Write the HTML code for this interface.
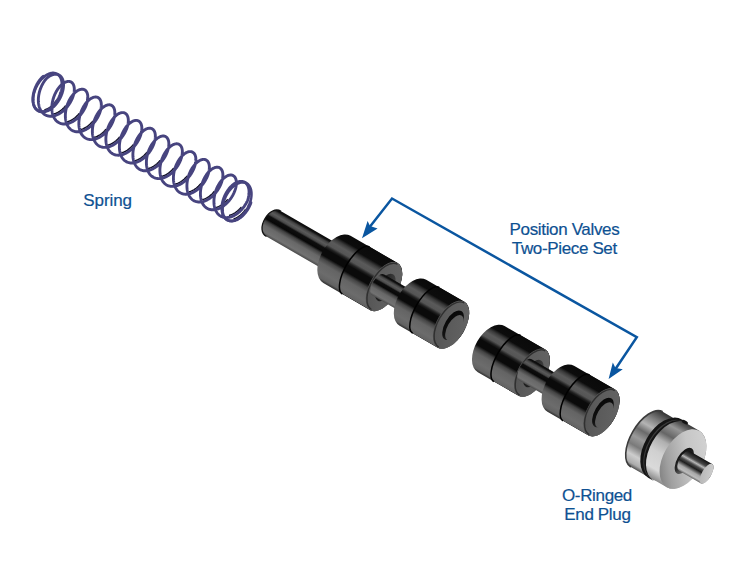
<!DOCTYPE html>
<html><head><meta charset="utf-8"><style>
html,body{margin:0;padding:0;background:#fff;}
#c{position:relative;width:750px;height:580px;overflow:hidden;background:#fff;}
svg{position:absolute;left:0;top:0;}
.t{position:absolute;font-family:"Liberation Sans",sans-serif;font-size:17px;line-height:19px;letter-spacing:-0.35px;color:#0e5192;white-space:nowrap;-webkit-text-stroke:0.2px #0e5192;}
</style></head><body><div id="c">
<svg width="750" height="580" viewBox="0 0 750 580">

<defs>
 <linearGradient id="blk" x1="0" y1="0" x2="0" y2="1">
  <stop offset="0" stop-color="#0a0a0a"/>
  <stop offset="0.14" stop-color="#0c0c0c"/>
  <stop offset="0.2" stop-color="#3a3a3a"/>
  <stop offset="0.27" stop-color="#5a5a5a"/>
  <stop offset="0.35" stop-color="#555555"/>
  <stop offset="0.40" stop-color="#202020"/>
  <stop offset="0.44" stop-color="#0a0a0a"/>
  <stop offset="0.56" stop-color="#0a0a0a"/>
  <stop offset="0.62" stop-color="#444444"/>
  <stop offset="0.7" stop-color="#646464"/>
  <stop offset="0.85" stop-color="#6c6c6c"/>
  <stop offset="0.95" stop-color="#626262"/>
  <stop offset="1" stop-color="#2e2e2e"/>
 </linearGradient>
 <linearGradient id="blk2" x1="0" y1="0" x2="0" y2="1">
  <stop offset="0" stop-color="#0a0a0a"/>
  <stop offset="0.190" stop-color="#0c0c0c"/>
  <stop offset="0.250" stop-color="#3a3a3a"/>
  <stop offset="0.320" stop-color="#5a5a5a"/>
  <stop offset="0.400" stop-color="#555555"/>
  <stop offset="0.450" stop-color="#202020"/>
  <stop offset="0.490" stop-color="#0a0a0a"/>
  <stop offset="0.610" stop-color="#0a0a0a"/>
  <stop offset="0.670" stop-color="#444444"/>
  <stop offset="0.750" stop-color="#646464"/>
  <stop offset="0.900" stop-color="#6c6c6c"/>
  <stop offset="0.990" stop-color="#626262"/>
  <stop offset="1" stop-color="#2e2e2e"/>
 </linearGradient>
 <linearGradient id="pin" x1="0" y1="0" x2="0" y2="1">
  <stop offset="0" stop-color="#0a0a0a"/>
  <stop offset="0.06" stop-color="#111"/>
  <stop offset="0.13" stop-color="#444"/>
  <stop offset="0.21" stop-color="#5a5a5a"/>
  <stop offset="0.29" stop-color="#484848"/>
  <stop offset="0.35" stop-color="#0e0e0e"/>
  <stop offset="0.48" stop-color="#080808"/>
  <stop offset="0.56" stop-color="#404040"/>
  <stop offset="0.7" stop-color="#686868"/>
  <stop offset="0.9" stop-color="#727272"/>
  <stop offset="1" stop-color="#4a4a4a"/>
 </linearGradient>
 <linearGradient id="face" x1="1" y1="0" x2="0" y2="1">
  <stop offset="0" stop-color="#646464"/>
  <stop offset="0.6" stop-color="#5c5c5c"/>
  <stop offset="1" stop-color="#505050"/>
 </linearGradient>
 <linearGradient id="ring" x1="1" y1="0" x2="0" y2="1">
  <stop offset="0" stop-color="#4a4a4a"/>
  <stop offset="0.45" stop-color="#262626"/>
  <stop offset="1" stop-color="#1a1a1a"/>
 </linearGradient>
 <linearGradient id="recess" x1="0" y1="0" x2="1" y2="1">
  <stop offset="0" stop-color="#050505"/>
  <stop offset="0.6" stop-color="#111"/>
  <stop offset="1" stop-color="#3a3a3a"/>
 </linearGradient>
 <linearGradient id="boss" x1="1" y1="0" x2="0" y2="1">
  <stop offset="0" stop-color="#626262"/>
  <stop offset="1" stop-color="#585858"/>
 </linearGradient>
 <linearGradient id="slvL" x1="0" y1="0" x2="0" y2="1">
  <stop offset="0" stop-color="#333"/>
  <stop offset="0.06" stop-color="#505050"/>
  <stop offset="0.16" stop-color="#7c7c7c"/>
  <stop offset="0.3" stop-color="#b4b4b4"/>
  <stop offset="0.42" stop-color="#6a6a6a"/>
  <stop offset="0.55" stop-color="#9a9a9a"/>
  <stop offset="0.68" stop-color="#7a7a7a"/>
  <stop offset="0.82" stop-color="#cdcdcd"/>
  <stop offset="0.94" stop-color="#acacac"/>
  <stop offset="1" stop-color="#505050"/>
 </linearGradient>
 <linearGradient id="slvR" x1="0" y1="0" x2="0" y2="1">
  <stop offset="0" stop-color="#3a3a3a"/>
  <stop offset="0.06" stop-color="#5a5a5a"/>
  <stop offset="0.15" stop-color="#959595"/>
  <stop offset="0.3" stop-color="#666"/>
  <stop offset="0.42" stop-color="#b0b0b0"/>
  <stop offset="0.6" stop-color="#d0d0d0"/>
  <stop offset="0.85" stop-color="#dadada"/>
  <stop offset="1" stop-color="#8a8a8a"/>
 </linearGradient>
 <linearGradient id="chamf" x1="1" y1="0" x2="0" y2="1">
  <stop offset="0" stop-color="#c8c8c8"/>
  <stop offset="0.5" stop-color="#a8a8a8"/>
  <stop offset="1" stop-color="#8c8c8c"/>
 </linearGradient>
 <linearGradient id="slvface" x1="0.85" y1="0" x2="0.15" y2="1">
  <stop offset="0" stop-color="#d4d4d4"/>
  <stop offset="0.4" stop-color="#c6c6c6"/>
  <stop offset="0.75" stop-color="#a0a0a0"/>
  <stop offset="1" stop-color="#767676"/>
 </linearGradient>
 <linearGradient id="pinbase" x1="0" y1="0" x2="1" y2="1">
  <stop offset="0" stop-color="#0a0a0a"/>
  <stop offset="0.6" stop-color="#2a2a2a"/>
  <stop offset="1" stop-color="#8a8a8a"/>
 </linearGradient>
 <linearGradient id="spin" x1="0" y1="0" x2="0" y2="1">
  <stop offset="0" stop-color="#111"/>
  <stop offset="0.1" stop-color="#2a2a2a"/>
  <stop offset="0.22" stop-color="#4a4a4a"/>
  <stop offset="0.33" stop-color="#b8b8b8"/>
  <stop offset="0.44" stop-color="#4a4a4a"/>
  <stop offset="0.56" stop-color="#1e1e1e"/>
  <stop offset="0.75" stop-color="#a8a8a8"/>
  <stop offset="0.9" stop-color="#bcbcbc"/>
  <stop offset="1" stop-color="#666"/>
 </linearGradient>
 <linearGradient id="spinface" x1="1" y1="0" x2="0" y2="1">
  <stop offset="0" stop-color="#d0d0d0"/>
  <stop offset="1" stop-color="#b4b4b4"/>
 </linearGradient>
</defs>

<g transform="rotate(30)">
<path d="M349.0,42.4 L420,42.4 L420,71.6 L349.0,71.6 C342.88,71.6 338.8,65.76 338.8,57 C338.8,48.24 342.88,42.4 349.0,42.4 Z" fill="url(#pin)"/>
<path d="M349.0,71.6 C342.88,71.6 338.8,65.76 338.8,57 C338.8,48.24 342.88,42.4 349.0,42.4" fill="none" stroke="#111" stroke-width="1.3"/>
<path d="M421.50,29.00 L475.80,29.00 A14.14,27.20 0 0 1 475.80,83.40 L421.50,83.40 A16.32,27.20 0 0 1 421.50,29.00 Z" fill="url(#blk)"/>
<path d="M443.50,29.00 L475.80,29.00 A14.14,27.20 0 0 1 475.80,83.40 L443.50,83.40 A10.88,27.20 0 0 1 443.50,29.00 Z" fill="url(#blk2)"/>
<path d="M443.50,29.00 A10.88,27.20 0 0 0 443.50,83.40" fill="none" stroke="#000" stroke-width="1.5"/>
<ellipse cx="475.80" cy="56.20" rx="14.14" ry="27.20" fill="url(#face)"/>
<path d="M476.40,30.09 A13.58,26.11 0 0 0 476.40,82.31" fill="none" stroke="#303030" stroke-width="1.4"/>
<ellipse cx="477.50" cy="56.30" rx="7.90" ry="15.20" fill="url(#ring)"/>
<path d="M470.00,45.70 L512.00,45.70 A6.00,12.00 0 0 1 512.00,69.70 L470.00,69.70 A6.00,12.00 0 0 1 470.00,45.70 Z" fill="url(#pin)"/>
<path d="M509.00,29.20 L553.00,29.20 A14.34,26.55 0 0 1 553.00,82.30 L509.00,82.30 A15.93,26.55 0 0 1 509.00,29.20 Z" fill="url(#blk)"/>
<path d="M524.00,29.20 L553.00,29.20 A14.34,26.55 0 0 1 553.00,82.30 L524.00,82.30 A10.62,26.55 0 0 1 524.00,29.20 Z" fill="url(#blk2)"/>
<path d="M524.00,29.20 A10.62,26.55 0 0 0 524.00,82.30" fill="none" stroke="#000" stroke-width="1.5"/>
<ellipse cx="553.00" cy="55.75" rx="14.34" ry="26.55" fill="url(#face)"/>
<path d="M553.60,30.26 A13.76,25.49 0 0 0 553.60,81.24" fill="none" stroke="#303030" stroke-width="1.4"/>
<ellipse cx="555.00" cy="55.15" rx="8.20" ry="16.40" fill="url(#recess)"/>
<ellipse cx="557.40" cy="56.65" rx="6.82" ry="14.20" fill="url(#boss)"/>
<path d="M600.00,30.10 L647.00,30.10 A13.88,26.70 0 0 1 647.00,83.50 L600.00,83.50 A16.02,26.70 0 0 1 600.00,30.10 Z" fill="url(#blk)"/>
<path d="M618.50,30.10 L647.00,30.10 A13.88,26.70 0 0 1 647.00,83.50 L618.50,83.50 A10.68,26.70 0 0 1 618.50,30.10 Z" fill="url(#blk2)"/>
<path d="M618.50,30.10 A10.68,26.70 0 0 0 618.50,83.50" fill="none" stroke="#000" stroke-width="1.5"/>
<ellipse cx="647.00" cy="56.80" rx="13.88" ry="26.70" fill="url(#face)"/>
<path d="M647.60,31.17 A13.33,25.63 0 0 0 647.60,82.43" fill="none" stroke="#303030" stroke-width="1.4"/>
<ellipse cx="648.70" cy="56.80" rx="7.90" ry="15.20" fill="url(#ring)"/>
<path d="M640.00,45.30 L684.00,45.30 A6.15,12.30 0 0 1 684.00,69.90 L640.00,69.90 A6.15,12.30 0 0 1 640.00,45.30 Z" fill="url(#pin)"/>
<path d="M680.00,29.80 L727.00,29.80 A14.34,26.55 0 0 1 727.00,82.90 L680.00,82.90 A15.93,26.55 0 0 1 680.00,29.80 Z" fill="url(#blk)"/>
<path d="M698.00,29.80 L727.00,29.80 A14.34,26.55 0 0 1 727.00,82.90 L698.00,82.90 A10.62,26.55 0 0 1 698.00,29.80 Z" fill="url(#blk2)"/>
<path d="M698.00,29.80 A10.62,26.55 0 0 0 698.00,82.90" fill="none" stroke="#000" stroke-width="1.5"/>
<ellipse cx="727.00" cy="56.35" rx="14.34" ry="26.55" fill="url(#face)"/>
<path d="M727.60,30.86 A13.76,25.49 0 0 0 727.60,81.84" fill="none" stroke="#303030" stroke-width="1.4"/>
<ellipse cx="728.40" cy="55.75" rx="8.20" ry="16.40" fill="url(#recess)"/>
<ellipse cx="730.80" cy="57.25" rx="6.82" ry="14.20" fill="url(#boss)"/>
<path d="M779.80,25.30 L804.00,25.30 A19.11,31.85 0 0 1 804.00,89.00 L779.80,89.00 A15.93,31.85 0 0 1 779.80,25.30 Z" fill="url(#slvL)"/>
<path d="M779.8,25.299999999999997 A15.925,31.85 0 0 0 779.8,89.0" fill="none" stroke="#3c3c3c" stroke-width="1.6"/>
<path d="M803.00,23.50 L821.00,23.50 A19.50,32.50 0 0 1 821.00,88.50 L803.00,88.50 A19.50,32.50 0 0 1 803.00,23.50 Z" fill="url(#slvR)"/>
<path d="M800.20,22.30 A20.89,33.70 0 0 0 800.20,89.70 L806.80,89.70 A20.89,33.70 0 0 1 806.80,22.30 Z" fill="#141414"/>
<path d="M803.00,23.00 A20.46,33.00 0 0 0 803.00,89.00 L804.20,89.00 A20.46,33.00 0 0 1 804.20,23.00 Z" fill="#3a3a3a"/>
<ellipse cx="804.2" cy="23.2" rx="3.4" ry="1.6" fill="#141414"/>
<ellipse cx="821.00" cy="56.00" rx="19.50" ry="32.50" fill="url(#slvface)"/>
<ellipse cx="823.00" cy="57.00" rx="7.25" ry="14.50" fill="url(#pinbase)"/>
<path d="M823.50,45.80 L848.80,45.80 A4.70,11.20 0 0 1 848.80,68.20 L823.50,68.20 A5.60,11.20 0 0 1 823.50,45.80 Z" fill="url(#spin)"/>
<ellipse cx="848.80" cy="57.00" rx="4.70" ry="11.20" fill="url(#spinface)"/>
</g>
<path d="M44.97,109.65 L45.39,109.53 L45.81,109.39 L46.24,109.23 L46.67,109.06 L47.10,108.87 L47.54,108.66 L47.98,108.43 L48.42,108.18 L48.87,107.92 L49.31,107.64 L49.75,107.34 L50.19,107.02 L50.63,106.69 L51.07,106.34 L51.51,105.97 L51.94,105.59 L52.37,105.20 L52.79,104.79 L53.21,104.36 L53.63,103.92 L54.04,103.47 L54.44,103.01 L54.84,102.53 L55.22,102.04 L55.60,101.54 L55.99,101.02 M53.99,113.89 L54.47,113.75 L54.95,113.60 L55.44,113.43 L55.93,113.24 L56.42,113.03 L56.92,112.80 L57.41,112.56 L57.90,112.30 L58.39,112.02 L58.89,111.73 L59.38,111.42 L59.86,111.09 L60.35,110.75 L60.83,110.39 L61.31,110.02 L61.78,109.64 L62.25,109.24 L62.71,108.82 L63.17,108.39 L63.62,107.96 L64.07,107.50 L64.50,107.04 L64.93,106.57 L65.36,106.07 M67.61,121.65 L68.09,121.52 L68.57,121.36 L69.06,121.18 L69.55,120.99 L70.04,120.78 L70.54,120.55 L71.03,120.30 L71.52,120.04 L72.02,119.75 L72.51,119.46 L73.00,119.14 L73.48,118.81 L73.97,118.47 L74.45,118.11 L74.93,117.73 L75.40,117.34 L75.87,116.94 L76.33,116.52 L76.78,116.09 L77.23,115.65 L77.67,115.19 L78.11,114.73 L78.53,114.25 L78.96,113.75 M81.23,129.42 L81.71,129.28 L82.19,129.12 L82.68,128.94 L83.17,128.74 L83.66,128.52 L84.16,128.29 L84.65,128.04 L85.14,127.77 L85.64,127.48 L86.13,127.18 L86.62,126.87 L87.10,126.53 L87.59,126.18 L88.07,125.82 L88.54,125.44 L89.02,125.05 L89.48,124.64 L89.94,124.22 L90.40,123.79 L90.84,123.34 L91.28,122.89 L91.72,122.42 L92.14,121.94 L92.57,121.44 M94.36,137.32 L94.84,137.19 L95.33,137.04 L95.81,136.87 L96.30,136.69 L96.79,136.49 L97.29,136.27 L97.78,136.03 L98.27,135.77 L98.77,135.50 L99.26,135.21 L99.75,134.91 L100.24,134.59 L100.72,134.25 L101.21,133.90 L101.69,133.53 L102.16,133.15 L102.63,132.75 L103.10,132.34 L103.55,131.92 L104.01,131.48 L104.45,131.03 L104.89,130.58 L105.32,130.10 L105.76,129.61 M107.98,145.09 L108.46,144.95 L108.95,144.80 L109.43,144.63 L109.92,144.44 L110.41,144.24 L110.91,144.01 L111.40,143.77 L111.89,143.51 L112.39,143.23 L112.88,142.94 L113.37,142.63 L113.86,142.31 L114.34,141.97 L114.83,141.61 L115.30,141.24 L115.78,140.85 L116.25,140.45 L116.71,140.04 L117.17,139.62 L117.62,139.18 L118.06,138.73 L118.50,138.26 L118.93,137.79 L119.36,137.29 M121.60,152.86 L122.08,152.72 L122.57,152.56 L123.05,152.39 L123.54,152.19 L124.04,151.98 L124.53,151.75 L125.02,151.51 L125.52,151.25 L126.01,150.97 L126.50,150.67 L126.99,150.36 L127.48,150.03 L127.96,149.68 L128.44,149.32 L128.92,148.95 L129.39,148.56 L129.86,148.16 L130.32,147.74 L130.78,147.31 L131.23,146.87 L131.67,146.42 L132.11,145.95 L132.53,145.48 L132.96,144.98 M135.22,160.62 L135.70,160.48 L136.19,160.32 L136.67,160.14 L137.17,159.94 L137.66,159.73 L138.15,159.50 L138.64,159.25 L139.14,158.98 L139.63,158.70 L140.12,158.40 L140.61,158.08 L141.10,157.75 L141.58,157.40 L142.06,157.04 L142.54,156.66 L143.01,156.27 L143.48,155.86 L143.94,155.44 L144.39,155.01 L144.84,154.56 L145.28,154.11 L145.71,153.64 L146.14,153.16 L146.57,152.66 M148.36,168.52 L148.84,168.39 L149.32,168.24 L149.81,168.08 L150.30,167.89 L150.79,167.69 L151.28,167.47 L151.77,167.24 L152.27,166.98 L152.76,166.71 L153.25,166.43 L153.74,166.12 L154.23,165.80 L154.72,165.46 L155.20,165.11 L155.68,164.75 L156.15,164.36 L156.62,163.97 L157.09,163.56 L157.55,163.14 L158.00,162.70 L158.45,162.26 L158.89,161.80 L159.32,161.33 L159.75,160.83 M161.98,176.29 L162.46,176.15 L162.94,176.00 L163.43,175.83 L163.92,175.65 L164.41,175.44 L164.90,175.22 L165.39,174.98 L165.89,174.72 L166.38,174.45 L166.87,174.15 L167.36,173.85 L167.85,173.52 L168.34,173.18 L168.82,172.83 L169.30,172.46 L169.77,172.07 L170.24,171.67 L170.70,171.26 L171.16,170.84 L171.61,170.40 L172.06,169.95 L172.49,169.49 L172.92,169.02 L173.36,168.52 M175.59,184.06 L176.07,183.92 L176.56,183.76 L177.05,183.59 L177.54,183.40 L178.03,183.19 L178.52,182.96 L179.01,182.72 L179.51,182.46 L180.00,182.18 L180.49,181.88 L180.98,181.57 L181.47,181.24 L181.96,180.90 L182.44,180.54 L182.91,180.17 L183.39,179.78 L183.86,179.38 L184.32,178.96 L184.77,178.53 L185.22,178.09 L185.67,177.64 L186.10,177.18 L186.53,176.70 L186.96,176.20 M189.21,191.82 L189.69,191.68 L190.18,191.52 L190.67,191.34 L191.16,191.15 L191.65,190.94 L192.14,190.70 L192.64,190.46 L193.13,190.19 L193.62,189.91 L194.11,189.61 L194.60,189.29 L195.09,188.96 L195.57,188.61 L196.05,188.25 L196.53,187.87 L197.00,187.48 L197.47,187.08 L197.93,186.66 L198.39,186.23 L198.83,185.79 L199.28,185.33 L199.71,184.86 L200.13,184.39 L200.56,183.89 M202.83,199.59 L203.31,199.44 L203.80,199.28 L204.29,199.10 L204.78,198.90 L205.27,198.68 L205.76,198.45 L206.26,198.19 L206.75,197.92 L207.24,197.64 L207.73,197.33 L208.22,197.01 L208.71,196.68 L209.19,196.33 L209.67,195.96 L210.15,195.58 L210.62,195.19 L211.08,194.78 L211.54,194.36 L212.00,193.92 L212.44,193.48 L212.88,193.02 L213.32,192.55 L213.74,192.07 L214.17,191.57 M215.97,207.49 L216.45,207.36 L216.93,207.21 L217.42,207.04 L217.91,206.85 L218.40,206.65 L218.89,206.43 L219.39,206.19 L219.88,205.93 L220.37,205.66 L220.86,205.37 L221.36,205.06 L221.84,204.74 L222.33,204.40 L222.81,204.04 L223.29,203.67 L223.76,203.29 L224.23,202.89 L224.70,202.48 L225.16,202.06 L225.61,201.62 L226.05,201.17 L226.49,200.71 L226.92,200.24 L227.35,199.74 M229.59,215.26 L230.07,215.12 L230.55,214.97 L231.04,214.79 L231.53,214.60 L232.02,214.40 L232.51,214.17 L233.01,213.93 L233.50,213.67 L233.99,213.39 L234.49,213.09 L234.98,212.78 L235.46,212.46 L235.95,212.11 L236.43,211.76 L236.91,211.38 L237.38,211.00 L237.85,210.60 L238.31,210.18 L238.77,209.75 L239.22,209.31 L239.66,208.86 L240.10,208.40 L240.53,207.93 L240.96,207.43 M234.16,218.70 L234.58,218.57 L235.00,218.42 L235.43,218.26 L235.86,218.07 L236.30,217.87 L236.74,217.65 L237.18,217.42 L237.62,217.16 L238.06,216.89 L238.51,216.60 L238.95,216.29 L239.39,215.97 L239.83,215.62 L240.27,215.27 L240.70,214.89 L241.13,214.51 L241.56,214.10 L241.98,213.68 L242.40,213.25 L242.81,212.81 L243.22,212.35 L243.62,211.88 L244.01,211.40 L244.39,210.90 L244.77,210.40 L245.15,209.87" fill="none" stroke="#15142a" stroke-width="1.5" stroke-linecap="round"/><g transform="rotate(30)"><path d="M99.66,56.16 L99.60,55.08 L99.51,54.00 L99.38,52.93 L99.23,51.86 L99.03,50.81 L98.81,49.77 L98.55,48.75 L98.27,47.75 L97.95,46.77 L97.61,45.82 L97.23,44.90 L96.83,44.01 L96.40,43.15 L95.95,42.33 L95.47,41.54 L94.97,40.80 L94.45,40.09 L93.91,39.43 L93.35,38.82 L92.78,38.25 L92.19,37.74 L91.58,37.27 L90.97,36.86 L90.34,36.50 L89.71,36.19 L89.07,35.94 L88.42,35.74 L87.77,35.60 L87.12,35.51 L86.47,35.48 L85.82,35.51 L85.18,35.60 L84.54,35.74 L83.91,35.94 L83.29,36.19 L82.67,36.50 L82.08,36.86 L81.49,37.27 L80.92,37.74 L80.37,38.25 L79.84,38.82 L79.33,39.43 L78.84,40.09 L78.37,40.80 L77.93,41.54 L77.51,42.33 L77.12,43.15 L76.76,44.01 L76.42,44.90 L76.12,45.82 L75.85,46.77 L75.60,47.75 L75.39,48.75 L75.21,49.77 L75.07,50.81 L74.96,51.86 L74.88,52.93 L74.84,54.00 L74.83,55.08 L74.85,56.16 L74.91,57.24 L75.00,58.32 L75.13,59.39 L75.28,60.46 L75.48,61.51 L75.70,62.55 L75.96,63.57 L76.24,64.57 L76.56,65.55 L76.90,66.50 L77.28,67.42 L77.68,68.31 L78.11,69.17 L78.56,69.99 L79.04,70.78 L79.54,71.52 L80.06,72.23 L80.60,72.89 L81.16,73.50 L81.73,74.07 L82.32,74.58 L82.93,75.05 L83.54,75.46 L84.17,75.82 L84.80,76.13 L85.44,76.38 L86.09,76.58 L86.74,76.72 L87.39,76.81 L88.04,76.83 L88.69,76.81 L89.33,76.72 L89.97,76.58 L90.60,76.38 L91.22,76.13 L91.84,75.82 L92.43,75.46 L93.02,75.05 L93.59,74.58 L94.14,74.07 L94.67,73.50 L95.18,72.89 L95.67,72.23 L96.14,71.52 L96.58,70.78 L97.00,69.99 L97.39,69.17 L97.75,68.31 L98.09,67.42 L98.39,66.50 L98.66,65.55 L98.91,64.57 L99.12,63.57 L99.30,62.55 L99.44,61.51 L99.55,60.46 L99.63,59.39 L99.67,58.32 L99.68,57.24 L99.66,56.16Z" fill="none" stroke="#47447f" stroke-width="2.7"/><path d="M318.45,56.16 L318.39,55.08 L318.30,54.00 L318.17,52.93 L318.02,51.86 L317.82,50.81 L317.60,49.77 L317.34,48.75 L317.06,47.75 L316.74,46.77 L316.40,45.82 L316.02,44.90 L315.62,44.01 L315.19,43.15 L314.74,42.33 L314.26,41.54 L313.76,40.80 L313.24,40.09 L312.70,39.43 L312.14,38.82 L311.57,38.25 L310.98,37.74 L310.37,37.27 L309.76,36.86 L309.13,36.50 L308.50,36.19 L307.86,35.94 L307.21,35.74 L306.56,35.60 L305.91,35.51 L305.26,35.48 L304.61,35.51 L303.97,35.60 L303.33,35.74 L302.70,35.94 L302.08,36.19 L301.46,36.50 L300.87,36.86 L300.28,37.27 L299.71,37.74 L299.16,38.25 L298.63,38.82 L298.12,39.43 L297.63,40.09 L297.16,40.80 L296.72,41.54 L296.30,42.33 L295.91,43.15 L295.55,44.01 L295.21,44.90 L294.91,45.82 L294.64,46.77 L294.39,47.75 L294.18,48.75 L294.00,49.77 L293.86,50.81 L293.75,51.86 L293.67,52.93 L293.63,54.00 L293.62,55.08 L293.64,56.16 L293.70,57.24 L293.79,58.32 L293.92,59.39 L294.07,60.46 L294.27,61.51 L294.49,62.55 L294.75,63.57 L295.03,64.57 L295.35,65.55 L295.69,66.50 L296.07,67.42 L296.47,68.31 L296.90,69.17 L297.35,69.99 L297.83,70.78 L298.33,71.52 L298.85,72.23 L299.39,72.89 L299.95,73.50 L300.52,74.07 L301.11,74.58 L301.72,75.05 L302.33,75.46 L302.96,75.82 L303.59,76.13 L304.23,76.38 L304.88,76.58 L305.53,76.72 L306.18,76.81 L306.83,76.83 L307.48,76.81 L308.12,76.72 L308.76,76.58 L309.39,76.38 L310.01,76.13 L310.63,75.82 L311.22,75.46 L311.81,75.05 L312.38,74.58 L312.93,74.07 L313.46,73.50 L313.97,72.89 L314.46,72.23 L314.93,71.52 L315.37,70.78 L315.79,69.99 L316.18,69.17 L316.54,68.31 L316.88,67.42 L317.18,66.50 L317.45,65.55 L317.70,64.57 L317.91,63.57 L318.09,62.55 L318.23,61.51 L318.34,60.46 L318.42,59.39 L318.46,58.32 L318.47,57.24 L318.45,56.16Z" fill="none" stroke="#47447f" stroke-width="2.7"/><path d="M75.58,44.46 L75.40,45.02 L75.23,45.60 L75.07,46.19 L74.93,46.79 L74.79,47.40 L74.67,48.01 L74.56,48.64 L74.46,49.28 L74.38,49.92 L74.31,50.57 L74.25,51.22 L74.21,51.88 L74.17,52.55 L74.16,53.22 L74.15,53.89 L74.16,54.56 L74.18,55.24 L74.22,55.92 L74.27,56.59 L74.33,57.27 L74.40,57.95 L74.49,58.62 L74.59,59.29 L74.71,59.96 L74.83,60.62 L74.97,61.28 L75.13,61.93 L75.29,62.58 L75.47,63.22 L75.66,63.85 L75.86,64.48 L76.08,65.09 L76.30,65.70 L76.54,66.30 L76.79,66.88 L77.04,67.45 L77.31,68.02 L77.59,68.56 L77.89,69.10 L78.19,69.62 L78.50,70.13 L78.81,70.62 L79.14,71.10 L79.48,71.56 L79.82,72.00 L80.18,72.43 L80.54,72.84 L80.90,73.23 L81.28,73.60 L81.66,73.95 L82.05,74.29 L82.44,74.61 L82.84,74.90 L83.24,75.18 L83.64,75.43 L84.06,75.67 L84.47,75.88 L84.89,76.07 L85.31,76.25 L85.73,76.40 L86.16,76.52 L86.58,76.63 L87.01,76.71 L87.44,76.78 L87.87,76.82 L88.29,76.83 L88.72,76.83 L89.15,76.80 L89.57,76.75 L89.99,76.68 L90.41,76.59 L90.83,76.48 L91.24,76.34 L91.65,76.18 L92.06,76.00 L92.46,75.80 L92.86,75.58 L93.25,75.34 L93.63,75.07 L94.01,74.79 L94.39,74.48 L94.75,74.16 L95.11,73.82 L95.46,73.46 L95.80,73.08 L96.14,72.68 L96.46,72.26 L96.78,71.83 L97.09,71.38 L97.39,70.91 L97.67,70.43 L97.95,69.93 L98.22,69.42 L98.47,68.89 L98.72,68.35 L98.95,67.80 L99.18,67.23 L99.39,66.65 L99.59,66.06 L99.77,65.46 L99.95,64.85 L100.11,64.23 L100.26,63.61 L100.40,62.97 L100.52,62.33 L100.63,61.68 L100.73,61.02 L100.81,60.36 L100.89,59.70 L100.94,59.03 L100.99,58.35 L101.02,57.68 L101.04,57.00 L101.04,56.33 L101.04,55.65 L101.01,54.97 L100.98,54.30 L100.93,53.62 L100.87,52.95 L100.80,52.28 L100.71,51.62 L100.61,50.96 L100.50,50.31 L100.37,49.66 L100.23,49.02 L100.08,48.39 L99.92,47.77 L99.75,47.15 L99.56,46.55 L99.37,45.95 L99.16,45.37 L98.94,44.80 L98.71,44.24 L98.47,43.69 L98.22,43.16 L97.96,42.64 L97.69,42.13 L97.42,41.64 L97.13,41.17 L96.83,40.71 L96.53,40.27 L96.22,39.84 L95.90,39.44 L95.57,39.05 L95.24,38.68 L94.90,38.32 L94.55,37.99 L94.20,37.68 L93.84,37.38 L93.48,37.11 L93.12,36.86 L92.75,36.63 L92.37,36.41 L92.00,36.22 L91.62,36.06 L91.24,35.91 L90.85,35.78 L90.47,35.68 L90.08,35.60 L89.70,35.54 L89.31,35.50 L88.92,35.49 L88.54,35.49 L88.15,35.52 L87.77,35.57 L87.39,35.65 L87.01,35.74 L86.64,35.86 L86.27,36.00 L85.90,36.16 L85.54,36.34 L85.18,36.54 L84.82,36.77 L84.47,37.01 L84.13,37.28 L83.79,37.57 L83.46,37.87 L83.14,38.20 L82.83,38.54 L82.52,38.91 L82.22,39.29 L81.93,39.69 L81.64,40.11 L81.37,40.54 L81.10,41.00 L80.85,41.47 L80.61,41.95 L80.37,42.45 L80.15,42.96 L79.93,43.49 L79.73,44.03 L79.55,44.59 L79.43,45.16 L79.33,45.74 L79.23,46.33 L79.15,46.93 L79.08,47.54 L79.02,48.16 L78.97,48.79 L78.94,49.42 L78.92,50.07 L78.91,50.72 L78.92,51.38 L78.94,52.04 L78.97,52.70 L79.01,53.37 L79.07,54.04 L79.15,54.72 L79.23,55.40 L79.33,56.07 L79.44,56.75 L79.57,57.43 L79.71,58.10 L79.86,58.78 L80.02,59.45 L80.20,60.11 L80.39,60.78 L80.59,61.43 L80.81,62.09 L81.04,62.73 L81.28,63.37 L81.53,64.00 L81.80,64.62 L82.08,65.24 L82.36,65.84 L82.66,66.43 L82.98,67.02 L83.30,67.59 L83.63,68.14 L83.97,68.69 L84.33,69.22 L84.69,69.74 L85.06,70.24 L85.44,70.73 L85.83,71.20 L86.23,71.66 L86.64,72.10 L87.05,72.52 L87.48,72.93 L87.91,73.32 L88.34,73.68 L88.79,74.03 L89.23,74.37 L89.69,74.68 L90.15,74.97 L90.61,75.24 L91.08,75.49 L91.55,75.72 L92.03,75.93 L92.51,76.12 L92.99,76.28 L93.47,76.43 L93.96,76.55 L94.45,76.65 L94.93,76.73 L95.42,76.79 L95.91,76.82 L96.40,76.83 L96.89,76.83 L97.37,76.79 L97.86,76.74 L98.34,76.66 L98.82,76.57 L99.30,76.45 L99.77,76.30 L100.24,76.14 L100.70,75.96 L101.16,75.75 L101.62,75.52 L102.07,75.28 L102.51,75.01 L102.95,74.72 L103.38,74.41 L103.81,74.08 L104.23,73.73 L104.64,73.37 L105.04,72.98 L105.43,72.58 L105.81,72.16 L106.19,71.72 L106.55,71.27 L106.91,70.80 L107.26,70.31 L107.59,69.81 L107.92,69.30 L108.23,68.77 L108.53,68.22 L108.83,67.67 L109.11,67.10 L109.37,66.52 L109.63,65.92 L109.88,65.32 L110.11,64.71 L110.33,64.09 L110.53,63.46 L110.73,62.82 L110.91,62.18 L111.08,61.52 L111.23,60.87 L111.38,60.21 L111.51,59.54 L111.62,58.87 L111.72,58.20 L111.81,57.52 L111.89,56.84 L111.95,56.17 L112.00,55.49 L112.04,54.81 L112.06,54.14 L112.07,53.47 L112.06,52.80 L112.05,52.13 L112.02,51.47 L111.98,50.81 L111.92,50.16 L111.85,49.51 L111.77,48.88 L111.68,48.25 L111.58,47.62 L111.46,47.01 L111.33,46.41 L111.19,45.82 L111.05,45.24 L110.88,44.67 L110.71,44.11 L110.53,43.57 L110.34,43.04 L110.14,42.52 L109.93,42.02 L109.71,41.53 L109.48,41.06 L109.24,40.61 L109.00,40.17 L108.74,39.75 L108.48,39.34 L108.21,38.96 L107.94,38.59 L107.66,38.25 L107.37,37.92 L107.08,37.61 L106.78,37.32 L106.48,37.05 L106.18,36.80 L105.87,36.57 L105.55,36.37 L105.24,36.18 L104.92,36.02 L104.59,35.88 L104.27,35.76 L103.95,35.66 L103.62,35.58 L103.30,35.53 L102.97,35.50 L102.64,35.49 L102.32,35.50 L102.00,35.53 L101.67,35.59 L101.36,35.67 L101.04,35.77 L100.72,35.89 L100.41,36.03 L100.11,36.20 L99.81,36.39 L99.51,36.60 L99.22,36.82 L98.93,37.07 L98.65,37.35 L98.37,37.64 L98.11,37.95 L97.84,38.28 L97.59,38.63 L97.35,39.00 L97.11,39.38 L96.88,39.79 L96.66,40.21 L96.45,40.65 L96.25,41.10 L96.05,41.58 L95.87,42.07 L95.70,42.57 L95.54,43.09 L95.39,43.62 L95.25,44.16 L95.12,44.72 L95.00,45.29 L94.90,45.87 L94.81,46.47 L94.73,47.07 L94.66,47.68 L94.60,48.30 L94.56,48.94 L94.53,49.57 L94.51,50.22 L94.51,50.87 L94.52,51.53 L94.54,52.19 L94.57,52.86 L94.62,53.53 L94.69,54.20 L94.76,54.88 L94.85,55.55 L94.95,56.23 L95.07,56.91 L95.19,57.59 L95.34,58.26 L95.49,58.93 L95.66,59.60 L95.84,60.27 L96.03,60.93 L96.24,61.59 L96.46,62.24 L96.69,62.88 L96.93,63.52 L97.19,64.15 L97.46,64.77 L97.74,65.38 L98.03,65.98 L98.33,66.57 L98.65,67.15 L98.97,67.72 L99.31,68.27 L99.65,68.82 L100.01,69.34 L100.37,69.86 L100.75,70.36 L101.13,70.84 L101.52,71.31 L101.92,71.77 L102.33,72.20 L102.75,72.62 L103.17,73.02 L103.60,73.40 L104.04,73.77 L104.49,74.11 L104.94,74.44 L105.39,74.75 L105.85,75.03 L106.32,75.30 L106.79,75.55 L107.26,75.77 L107.74,75.97 L108.22,76.16 L108.70,76.32 L109.18,76.46 L109.67,76.58 L110.16,76.67 L110.64,76.75 L111.13,76.80 L111.62,76.83 L112.11,76.83 L112.60,76.82 L113.08,76.78 L113.57,76.72 L114.05,76.64 L114.53,76.54 L115.00,76.41 L115.47,76.27 L115.94,76.10 L116.41,75.91 L116.87,75.70 L117.32,75.47 L117.77,75.21 L118.21,74.94 L118.65,74.65 L119.08,74.34 L119.50,74.00 L119.92,73.65 L120.33,73.28 L120.72,72.89 L121.12,72.48 L121.50,72.06 L121.87,71.62 L122.23,71.16 L122.59,70.69 L122.93,70.20 L123.26,69.69 L123.59,69.17 L123.90,68.64 L124.20,68.09 L124.49,67.53 L124.77,66.96 L125.03,66.38 L125.28,65.78 L125.53,65.18 L125.76,64.57 L125.97,63.94 L126.18,63.31 L126.37,62.67 L126.55,62.02 L126.71,61.37 L126.86,60.71 L127.00,60.05 L127.13,59.38 L127.24,58.71 L127.34,58.04 L127.43,57.36 L127.50,56.69 L127.56,56.01 L127.61,55.33 L127.64,54.66 L127.66,53.98 L127.66,53.31 L127.66,52.64 L127.64,51.97 L127.60,51.31 L127.56,50.66 L127.50,50.01 L127.43,49.36 L127.35,48.73 L127.25,48.10 L127.15,47.48 L127.03,46.87 L126.90,46.27 L126.76,45.68 L126.60,45.10 L126.44,44.54 L126.27,43.98 L126.08,43.44 L125.89,42.91 L125.69,42.40 L125.47,41.90 L125.25,41.42 L125.02,40.95 L124.78,40.50 L124.53,40.07 L124.28,39.65 L124.02,39.25 L123.75,38.87 L123.47,38.51 L123.19,38.17 L122.90,37.84 L122.61,37.54 L122.31,37.25 L122.01,36.99 L121.70,36.75 L121.39,36.52 L121.07,36.32 L120.76,36.14 L120.44,35.98 L120.12,35.85 L119.79,35.73 L119.47,35.64 L119.14,35.57 L118.82,35.52 L118.49,35.49 L118.16,35.49 L117.84,35.50 L117.52,35.54 L117.20,35.60 L116.88,35.69 L116.56,35.79 L116.25,35.92 L115.94,36.07 L115.63,36.24 L115.33,36.43 L115.04,36.65 L114.74,36.88 L114.46,37.14 L114.18,37.41 L113.91,37.71 L113.64,38.02 L113.38,38.36 L113.13,38.71 L112.89,39.08 L112.65,39.47 L112.42,39.88 L112.20,40.31 L111.99,40.75 L111.80,41.21 L111.61,41.69 L111.43,42.18 L111.26,42.69 L111.10,43.21 L110.95,43.74 L110.81,44.29 L110.69,44.85 L110.58,45.43 L110.47,46.01 L110.38,46.61 L110.31,47.21 L110.24,47.83 L110.19,48.45 L110.15,49.08 L110.12,49.72 L110.11,50.37 L110.11,51.02 L110.12,51.68 L110.14,52.35 L110.18,53.01 L110.23,53.69 L110.30,54.36 L110.38,55.04 L110.47,55.71 L110.57,56.39 L110.69,57.07 L110.82,57.74 L110.97,58.42 L111.12,59.09 L111.30,59.76 L111.48,60.42 L111.68,61.08 L111.89,61.74 L112.11,62.39 L112.34,63.03 L112.59,63.67 L112.85,64.29 L113.12,64.91 L113.40,65.52 L113.69,66.12 L114.00,66.71 L114.32,67.28 L114.64,67.85 L114.98,68.40 L115.33,68.94 L115.69,69.47 L116.05,69.98 L116.43,70.47 L116.82,70.95 L117.21,71.42 L117.61,71.87 L118.02,72.30 L118.44,72.72 L118.87,73.11 L119.30,73.49 L119.74,73.85 L120.19,74.19 L120.64,74.51 L121.09,74.82 L121.56,75.10 L122.02,75.36 L122.49,75.60 L122.97,75.82 L123.44,76.02 L123.92,76.20 L124.41,76.35 L124.89,76.49 L125.38,76.60 L125.87,76.69 L126.35,76.76 L126.84,76.81 L127.33,76.83 L127.82,76.83 L128.30,76.81 L128.79,76.77 L129.27,76.71 L129.75,76.62 L130.23,76.51 L130.71,76.38 L131.18,76.23 L131.65,76.06 L132.11,75.86 L132.57,75.65 L133.02,75.41 L133.47,75.15 L133.91,74.88 L134.35,74.58 L134.77,74.26 L135.20,73.92 L135.61,73.57 L136.02,73.19 L136.41,72.80 L136.80,72.39 L137.18,71.96 L137.55,71.51 L137.91,71.05 L138.26,70.57 L138.61,70.08 L138.94,69.57 L139.26,69.05 L139.56,68.51 L139.86,67.96 L140.15,67.40 L140.42,66.83 L140.69,66.24 L140.94,65.64 L141.18,65.04 L141.40,64.42 L141.62,63.80 L141.82,63.16 L142.01,62.52 L142.18,61.87 L142.34,61.22 L142.49,60.56 L142.63,59.90 L142.75,59.23 L142.86,58.56 L142.96,57.88 L143.04,57.21 L143.11,56.53 L143.17,55.85 L143.21,55.17 L143.24,54.50 L143.26,53.82 L143.26,53.15 L143.25,52.48 L143.23,51.82 L143.19,51.16 L143.14,50.51 L143.08,49.86 L143.01,49.22 L142.92,48.58 L142.83,47.95 L142.72,47.34 L142.59,46.73 L142.46,46.13 L142.32,45.55 L142.16,44.97 L142.00,44.41 L141.82,43.86 L141.64,43.32 L141.44,42.79 L141.23,42.28 L141.02,41.79 L140.79,41.31 L140.56,40.85 L140.32,40.40 L140.07,39.97 L139.81,39.56 L139.55,39.16 L139.28,38.79 L139.00,38.43 L138.72,38.09 L138.43,37.77 L138.13,37.47 L137.84,37.19 L137.53,36.93 L137.22,36.69 L136.91,36.48 L136.60,36.28 L136.28,36.10 L135.96,35.95 L135.64,35.82 L135.31,35.71 L134.99,35.62 L134.66,35.55 L134.34,35.51 L134.01,35.49 L133.68,35.49 L133.36,35.51 L133.04,35.56 L132.72,35.62 L132.40,35.71 L132.08,35.82 L131.77,35.95 L131.46,36.11 L131.16,36.28 L130.86,36.48 L130.56,36.70 L130.27,36.94 L129.99,37.20 L129.71,37.48 L129.44,37.78 L129.17,38.10 L128.92,38.44 L128.67,38.80 L128.43,39.17 L128.19,39.57 L127.97,39.98 L127.75,40.41 L127.54,40.86 L127.35,41.32 L127.16,41.80 L126.98,42.30 L126.81,42.81 L126.66,43.33 L126.51,43.87 L126.38,44.42 L126.26,44.99 L126.15,45.56 L126.05,46.15 L125.96,46.75 L125.89,47.35 L125.82,47.97 L125.77,48.60 L125.74,49.23 L125.71,49.87 L125.70,50.52 L125.70,51.18 L125.72,51.84 L125.75,52.50 L125.79,53.17 L125.84,53.84 L125.91,54.52 L125.99,55.19 L126.09,55.87 L126.19,56.55 L126.32,57.22 L126.45,57.90 L126.60,58.57 L126.76,59.25 L126.93,59.91 L127.12,60.58 L127.32,61.24 L127.53,61.89 L127.76,62.54 L127.99,63.18 L128.24,63.81 L128.51,64.44 L128.78,65.05 L129.06,65.66 L129.36,66.26 L129.67,66.84 L129.99,67.42 L130.32,67.98 L130.66,68.53 L131.01,69.06 L131.37,69.59 L131.74,70.09 L132.12,70.59 L132.50,71.06 L132.90,71.53 L133.30,71.97 L133.72,72.40 L134.14,72.81 L134.56,73.20 L135.00,73.58 L135.44,73.93 L135.89,74.27 L136.34,74.59 L136.80,74.88 L137.26,75.16 L137.73,75.42 L138.20,75.65 L138.67,75.87 L139.15,76.06 L139.63,76.24 L140.12,76.39 L140.60,76.52 L141.09,76.62 L141.57,76.71 L142.06,76.77 L142.55,76.81 L143.04,76.83 L143.53,76.83 L144.01,76.81 L144.50,76.76 L144.98,76.69 L145.46,76.60 L145.94,76.48 L146.41,76.35 L146.89,76.19 L147.35,76.01 L147.81,75.81 L148.27,75.59 L148.72,75.35 L149.17,75.09 L149.61,74.81 L150.04,74.50 L150.47,74.18 L150.89,73.84 L151.30,73.48 L151.70,73.10 L152.10,72.70 L152.49,72.29 L152.86,71.86 L153.23,71.41 L153.59,70.94 L153.94,70.46 L154.28,69.96 L154.61,69.45 L154.92,68.93 L155.23,68.39 L155.53,67.83 L155.81,67.27 L156.08,66.69 L156.34,66.10 L156.59,65.50 L156.83,64.89 L157.05,64.28 L157.26,63.65 L157.46,63.01 L157.64,62.37 L157.82,61.72 L157.98,61.07 L158.12,60.41 L158.26,59.74 L158.38,59.07 L158.48,58.40 L158.57,57.72 L158.65,57.05 L158.72,56.37 L158.77,55.69 L158.81,55.02 L158.84,54.34 L158.85,53.67 L158.85,53.00 L158.84,52.33 L158.82,51.67 L158.78,51.01 L158.73,50.35 L158.66,49.71 L158.59,49.07 L158.50,48.43 L158.40,47.81 L158.28,47.20 L158.16,46.59 L158.03,45.99 L157.88,45.41 L157.72,44.84 L157.55,44.28 L157.37,43.73 L157.19,43.19 L156.99,42.67 L156.78,42.17 L156.56,41.68 L156.34,41.20 L156.10,40.74 L155.86,40.30 L155.61,39.87 L155.35,39.46 L155.08,39.07 L154.81,38.70 L154.53,38.35 L154.25,38.01 L153.96,37.70 L153.66,37.40 L153.36,37.13 L153.06,36.87 L152.75,36.64 L152.43,36.43 L152.12,36.24 L151.80,36.07 L151.48,35.92 L151.16,35.79 L150.83,35.69 L150.51,35.60 L150.18,35.54 L149.86,35.50 L149.53,35.49 L149.20,35.49 L148.88,35.52 L148.56,35.57 L148.24,35.64 L147.92,35.73 L147.61,35.85 L147.30,35.99 L146.99,36.15 L146.68,36.33 L146.38,36.53 L146.09,36.75 L145.80,37.00 L145.52,37.26 L145.24,37.55 L144.97,37.85 L144.71,38.18 L144.45,38.52 L144.21,38.88 L143.97,39.26 L143.73,39.66 L143.51,40.08 L143.30,40.51 L143.09,40.97 L142.90,41.43 L142.71,41.92 L142.54,42.42 L142.37,42.93 L142.22,43.46 L142.08,44.00 L141.95,44.55 L141.83,45.12 L141.72,45.70 L141.62,46.29 L141.54,46.89 L141.47,47.50 L141.41,48.12 L141.36,48.75 L141.33,49.38 L141.30,50.02 L141.30,50.68 L141.30,51.33 L141.32,51.99 L141.35,52.66 L141.39,53.33 L141.45,54.00 L141.52,54.67 L141.61,55.35 L141.71,56.03 L141.82,56.71 L141.94,57.38 L142.08,58.06 L142.23,58.73 L142.39,59.40 L142.57,60.07 L142.76,60.73 L142.96,61.39 L143.18,62.04 L143.41,62.69 L143.65,63.33 L143.90,63.96 L144.16,64.58 L144.44,65.20 L144.73,65.80 L145.03,66.39 L145.34,66.98 L145.66,67.55 L145.99,68.11 L146.33,68.65 L146.69,69.19 L147.05,69.71 L147.42,70.21 L147.80,70.70 L148.19,71.17 L148.59,71.63 L149.00,72.07 L149.41,72.50 L149.83,72.90 L150.26,73.29 L150.70,73.66 L151.14,74.01 L151.59,74.34 L152.04,74.66 L152.50,74.95 L152.96,75.22 L153.43,75.47 L153.90,75.71 L154.38,75.92 L154.86,76.10 L155.34,76.27 L155.82,76.42 L156.31,76.54 L156.80,76.65 L157.28,76.73 L157.77,76.78 L158.26,76.82 L158.75,76.83 L159.24,76.83 L159.72,76.80 L160.21,76.74 L160.69,76.67 L161.17,76.57 L161.65,76.45 L162.12,76.31 L162.59,76.15 L163.06,75.97 L163.52,75.76 L163.97,75.54 L164.42,75.29 L164.87,75.03 L165.31,74.74 L165.74,74.43 L166.16,74.10 L166.58,73.76 L166.99,73.39 L167.39,73.01 L167.79,72.61 L168.17,72.19 L168.55,71.75 L168.91,71.30 L169.27,70.83 L169.62,70.35 L169.95,69.85 L170.28,69.33 L170.59,68.80 L170.90,68.26 L171.19,67.70 L171.47,67.13 L171.74,66.55 L172.00,65.96 L172.24,65.36 L172.48,64.75 L172.70,64.13 L172.90,63.50 L173.10,62.86 L173.28,62.22 L173.45,61.57 L173.61,60.91 L173.75,60.25 L173.88,59.58 L174.00,58.91 L174.10,58.24 L174.19,57.57 L174.27,56.89 L174.33,56.21 L174.38,55.54 L174.42,54.86 L174.44,54.18 L174.45,53.51 L174.45,52.84 L174.43,52.17 L174.40,51.51 L174.36,50.85 L174.31,50.20 L174.24,49.56 L174.16,48.92 L174.07,48.29 L173.97,47.67 L173.85,47.05 L173.73,46.45 L173.59,45.86 L173.44,45.28 L173.28,44.71 L173.11,44.15 L172.93,43.60 L172.74,43.07 L172.54,42.55 L172.33,42.05 L172.11,41.56 L171.88,41.09 L171.64,40.64 L171.40,40.20 L171.14,39.78 L170.88,39.37 L170.62,38.99 L170.34,38.62 L170.06,38.27 L169.78,37.94 L169.48,37.63 L169.19,37.34 L168.89,37.07 L168.58,36.82 L168.27,36.59 L167.96,36.38 L167.64,36.19 L167.32,36.03 L167.00,35.89 L166.68,35.76 L166.35,35.66 L166.03,35.59 L165.70,35.53 L165.37,35.50 L165.05,35.49 L164.72,35.50 L164.40,35.53 L164.08,35.58 L163.76,35.66 L163.44,35.76 L163.13,35.88 L162.82,36.02 L162.51,36.19 L162.21,36.37 L161.91,36.58 L161.62,36.81 L161.33,37.06 L161.05,37.33 L160.78,37.62 L160.51,37.93 L160.25,38.25 L159.99,38.60 L159.75,38.97 L159.51,39.36 L159.28,39.76 L159.06,40.18 L158.84,40.62 L158.64,41.07 L158.45,41.54 L158.27,42.03 L158.09,42.53 L157.93,43.05 L157.78,43.58 L157.64,44.13 L157.51,44.68 L157.40,45.25 L157.29,45.83 L157.20,46.43 L157.12,47.03 L157.05,47.64 L156.99,48.26 L156.95,48.89 L156.92,49.53 L156.90,50.18 L156.89,50.83 L156.90,51.48 L156.92,52.15 L156.96,52.81 L157.00,53.48 L157.06,54.16 L157.14,54.83 L157.23,55.51 L157.33,56.19 L157.44,56.86 L157.57,57.54 L157.71,58.21 L157.86,58.89 L158.03,59.56 L158.21,60.22 L158.40,60.89 L158.61,61.54 L158.83,62.19 L159.06,62.84 L159.30,63.48 L159.56,64.10 L159.82,64.73 L160.10,65.34 L160.39,65.94 L160.69,66.53 L161.01,67.11 L161.33,67.68 L161.67,68.24 L162.01,68.78 L162.37,69.31 L162.73,69.82 L163.10,70.33 L163.49,70.81 L163.88,71.28 L164.28,71.74 L164.69,72.17 L165.10,72.59 L165.53,72.99 L165.96,73.38 L166.40,73.74 L166.84,74.09 L167.29,74.42 L167.74,74.73 L168.20,75.01 L168.67,75.28 L169.14,75.53 L169.61,75.76 L170.09,75.96 L170.57,76.15 L171.05,76.31 L171.53,76.45 L172.02,76.57 L172.51,76.67 L172.99,76.74 L173.48,76.79 L173.97,76.83 L174.46,76.83 L174.95,76.82 L175.43,76.79 L175.92,76.73 L176.40,76.65 L176.88,76.55 L177.35,76.42 L177.83,76.28 L178.30,76.11 L178.76,75.92 L179.22,75.71 L179.67,75.48 L180.12,75.23 L180.57,74.96 L181.00,74.67 L181.43,74.36 L181.86,74.03 L182.27,73.68 L182.68,73.31 L183.08,72.92 L183.47,72.51 L183.86,72.09 L184.23,71.65 L184.59,71.19 L184.95,70.72 L185.29,70.23 L185.63,69.73 L185.95,69.21 L186.26,68.68 L186.56,68.13 L186.85,67.57 L187.13,67.00 L187.40,66.42 L187.65,65.82 L187.89,65.22 L188.12,64.61 L188.34,63.98 L188.55,63.35 L188.74,62.71 L188.92,62.07 L189.08,61.42 L189.24,60.76 L189.38,60.10 L189.50,59.43 L189.62,58.76 L189.72,58.08 L189.81,57.41 L189.88,56.73 L189.94,56.06 L189.99,55.38 L190.02,54.70 L190.04,54.03 L190.05,53.35 L190.04,52.68 L190.02,52.02 L189.99,51.36 L189.95,50.70 L189.89,50.05 L189.82,49.41 L189.74,48.77 L189.64,48.14 L189.54,47.52 L189.42,46.91 L189.29,46.31 L189.15,45.72 L189.00,45.14 L188.84,44.57 L188.66,44.02 L188.48,43.48 L188.29,42.95 L188.08,42.44 L187.87,41.94 L187.65,41.45 L187.42,40.98 L187.18,40.53 L186.93,40.10 L186.68,39.68 L186.42,39.28 L186.15,38.90 L185.87,38.53 L185.59,38.19 L185.30,37.86 L185.01,37.56 L184.71,37.27 L184.41,37.01 L184.10,36.76 L183.79,36.54 L183.48,36.34 L183.16,36.15 L182.84,35.99 L182.52,35.86 L182.20,35.74 L181.87,35.64 L181.55,35.57 L181.22,35.52 L180.89,35.49 L180.57,35.49 L180.25,35.50 L179.92,35.54 L179.60,35.60 L179.28,35.68 L178.97,35.79 L178.65,35.91 L178.34,36.06 L178.04,36.23 L177.74,36.42 L177.44,36.63 L177.15,36.86 L176.86,37.12 L176.58,37.39 L176.31,37.69 L176.04,38.00 L175.78,38.33 L175.53,38.69 L175.28,39.06 L175.05,39.45 L174.82,39.86 L174.60,40.28 L174.39,40.72 L174.19,41.18 L174.00,41.66 L173.82,42.15 L173.65,42.65 L173.49,43.17 L173.34,43.71 L173.21,44.25 L173.08,44.81 L172.97,45.39 L172.86,45.97 L172.77,46.57 L172.69,47.17 L172.63,47.79 L172.57,48.41 L172.53,49.04 L172.51,49.68 L172.49,50.33 L172.49,50.98 L172.50,51.64 L172.52,52.30 L172.56,52.97 L172.61,53.64 L172.68,54.31 L172.75,54.99 L172.84,55.67 L172.95,56.34 L173.07,57.02 L173.20,57.70 L173.34,58.37 L173.50,59.04 L173.67,59.71 L173.85,60.38 L174.05,61.04 L174.25,61.69 L174.48,62.34 L174.71,62.99 L174.96,63.62 L175.21,64.25 L175.48,64.87 L175.76,65.48 L176.06,66.08 L176.36,66.67 L176.68,67.25 L177.00,67.81 L177.34,68.36 L177.69,68.90 L178.05,69.43 L178.41,69.94 L178.79,70.44 L179.17,70.92 L179.57,71.39 L179.97,71.84 L180.38,72.27 L180.80,72.69 L181.22,73.09 L181.66,73.47 L182.09,73.83 L182.54,74.17 L182.99,74.49 L183.45,74.80 L183.91,75.08 L184.37,75.34 L184.84,75.58 L185.32,75.81 L185.79,76.01 L186.27,76.19 L186.76,76.34 L187.24,76.48 L187.73,76.59 L188.22,76.69 L188.70,76.76 L189.19,76.80 L189.68,76.83 L190.17,76.83 L190.66,76.82 L191.14,76.77 L191.62,76.71 L192.11,76.63 L192.58,76.52 L193.06,76.39 L193.53,76.24 L194.00,76.07 L194.46,75.88 L194.92,75.66 L195.38,75.43 L195.82,75.17 L196.27,74.89 L196.70,74.60 L197.13,74.28 L197.55,73.95 L197.97,73.59 L198.37,73.22 L198.77,72.83 L199.16,72.42 L199.54,71.99 L199.91,71.54 L200.27,71.08 L200.62,70.61 L200.97,70.11 L201.30,69.61 L201.62,69.09 L201.93,68.55 L202.23,68.00 L202.51,67.44 L202.79,66.87 L203.05,66.28 L203.31,65.68 L203.54,65.08 L203.77,64.46 L203.99,63.84 L204.19,63.20 L204.38,62.56 L204.55,61.92 L204.72,61.26 L204.87,60.60 L205.00,59.94 L205.13,59.27 L205.24,58.60 L205.34,57.93 L205.42,57.25 L205.49,56.57 L205.55,55.90 L205.59,55.22 L205.62,54.54 L205.64,53.87 L205.64,53.20 L205.63,52.53 L205.61,51.86 L205.58,51.20 L205.53,50.55 L205.47,49.90 L205.40,49.26 L205.31,48.62 L205.22,48.00 L205.11,47.38 L204.99,46.77 L204.85,46.17 L204.71,45.58 L204.56,45.01 L204.39,44.44 L204.22,43.89 L204.03,43.35 L203.84,42.83 L203.63,42.32 L203.42,41.82 L203.19,41.34 L202.96,40.88 L202.72,40.43 L202.47,40.00 L202.22,39.58 L201.95,39.19 L201.68,38.81 L201.40,38.45 L201.12,38.11 L200.83,37.79 L200.54,37.49 L200.24,37.21 L199.94,36.95 L199.63,36.71 L199.32,36.49 L199.00,36.29 L198.68,36.11 L198.36,35.96 L198.04,35.83 L197.72,35.71 L197.39,35.62 L197.07,35.56 L196.74,35.51 L196.41,35.49 L196.09,35.49 L195.77,35.51 L195.44,35.55 L195.12,35.62 L194.80,35.70 L194.49,35.81 L194.18,35.94 L193.87,36.10 L193.56,36.27 L193.26,36.47 L192.97,36.68 L192.68,36.92 L192.39,37.18 L192.11,37.46 L191.84,37.76 L191.58,38.08 L191.32,38.41 L191.07,38.77 L190.82,39.15 L190.59,39.54 L190.36,39.95 L190.15,40.38 L189.94,40.83 L189.74,41.29 L189.55,41.77 L189.38,42.26 L189.21,42.77 L189.05,43.30 L188.91,43.83 L188.77,44.38 L188.65,44.95 L188.54,45.52 L188.44,46.11 L188.35,46.71 L188.27,47.31 L188.21,47.93 L188.16,48.56 L188.12,49.19 L188.10,49.83 L188.08,50.48 L188.09,51.13 L188.10,51.79 L188.13,52.46 L188.17,53.13 L188.22,53.80 L188.29,54.47 L188.37,55.15 L188.46,55.82 L188.57,56.50 L188.69,57.18 L188.82,57.85 L188.97,58.53 L189.13,59.20 L189.30,59.87 L189.49,60.53 L189.69,61.19 L189.90,61.85 L190.12,62.49 L190.36,63.14 L190.61,63.77 L190.87,64.40 L191.14,65.01 L191.43,65.62 L191.72,66.22 L192.03,66.80 L192.35,67.38 L192.68,67.94 L193.02,68.49 L193.37,69.03 L193.73,69.55 L194.09,70.06 L194.47,70.55 L194.86,71.03 L195.26,71.50 L195.66,71.94 L196.07,72.37 L196.49,72.78 L196.92,73.18 L197.35,73.55 L197.79,73.91 L198.24,74.25 L198.69,74.56 L199.15,74.86 L199.61,75.14 L200.08,75.40 L200.55,75.64 L201.02,75.85 L201.50,76.05 L201.98,76.22 L202.47,76.38 L202.95,76.51 L203.44,76.62 L203.93,76.70 L204.41,76.77 L204.90,76.81 L205.39,76.83 L205.88,76.83 L206.36,76.81 L206.85,76.76 L207.33,76.69 L207.81,76.60 L208.29,76.49 L208.77,76.36 L209.24,76.20 L209.70,76.03 L210.17,75.83 L210.62,75.61 L211.08,75.37 L211.52,75.11 L211.96,74.83 L212.40,74.53 L212.82,74.20 L213.24,73.86 L213.66,73.51 L214.06,73.13 L214.46,72.73 L214.84,72.32 L215.22,71.89 L215.59,71.44 L215.95,70.97 L216.30,70.49 L216.64,70.00 L216.97,69.49 L217.29,68.96 L217.59,68.42 L217.89,67.87 L218.18,67.31 L218.45,66.73 L218.71,66.14 L218.96,65.54 L219.19,64.94 L219.42,64.32 L219.63,63.69 L219.83,63.06 L220.02,62.41 L220.19,61.76 L220.35,61.11 L220.50,60.45 L220.63,59.78 L220.75,59.12 L220.86,58.44 L220.95,57.77 L221.03,57.09 L221.10,56.42 L221.15,55.74 L221.19,55.06 L221.22,54.39 L221.24,53.71 L221.24,53.04 L221.23,52.37 L221.20,51.71 L221.16,51.05 L221.11,50.40 L221.05,49.75 L220.97,49.11 L220.89,48.48 L220.79,47.85 L220.68,47.24 L220.55,46.63 L220.42,46.03 L220.27,45.45 L220.12,44.88 L219.95,44.31 L219.77,43.77 L219.58,43.23 L219.38,42.71 L219.18,42.20 L218.96,41.71 L218.74,41.23 L218.50,40.77 L218.26,40.33 L218.01,39.90 L217.75,39.49 L217.49,39.10 L217.21,38.73 L216.93,38.37 L216.65,38.04 L216.36,37.72 L216.06,37.42 L215.76,37.15 L215.46,36.89 L215.15,36.66 L214.84,36.44 L214.52,36.25 L214.20,36.08 L213.88,35.93 L213.56,35.80 L213.24,35.69 L212.91,35.61 L212.59,35.54 L212.26,35.50 L211.93,35.49 L211.61,35.49 L211.29,35.52 L210.96,35.56 L210.64,35.64 L210.33,35.73 L210.01,35.84 L209.70,35.98 L209.39,36.14 L209.09,36.32 L208.79,36.52 L208.49,36.74 L208.21,36.98 L207.92,37.24 L207.65,37.53 L207.37,37.83 L207.11,38.15 L206.85,38.50 L206.61,38.86 L206.37,39.24 L206.13,39.64 L205.91,40.05 L205.69,40.49 L205.49,40.94 L205.29,41.40 L205.11,41.88 L204.93,42.38 L204.77,42.89 L204.61,43.42 L204.47,43.96 L204.34,44.51 L204.22,45.08 L204.11,45.66 L204.01,46.25 L203.93,46.85 L203.85,47.46 L203.79,48.08 L203.75,48.70 L203.71,49.34 L203.69,49.98 L203.68,50.63 L203.68,51.29 L203.70,51.95 L203.73,52.61 L203.77,53.28 L203.83,53.95 L203.90,54.63 L203.99,55.31 L204.08,55.98 L204.19,56.66 L204.32,57.34 L204.45,58.01 L204.60,58.69 L204.77,59.36 L204.94,60.02 L205.13,60.69 L205.33,61.35 L205.55,62.00 L205.77,62.65 L206.01,63.28 L206.27,63.92 L206.53,64.54 L206.80,65.15 L207.09,65.76 L207.39,66.35 L207.70,66.94 L208.02,67.51 L208.35,68.07 L208.69,68.62 L209.05,69.15 L209.41,69.67 L209.78,70.18 L210.16,70.67 L210.55,71.14 L210.95,71.60 L211.35,72.04 L211.77,72.47 L212.19,72.88 L212.62,73.27 L213.05,73.64 L213.49,73.99 L213.94,74.32 L214.39,74.64 L214.85,74.93 L215.32,75.20 L215.78,75.46 L216.26,75.69 L216.73,75.90 L217.21,76.09 L217.69,76.26 L218.17,76.41 L218.66,76.54 L219.15,76.64 L219.64,76.72 L220.12,76.78 L220.61,76.82 L221.10,76.83 L221.59,76.83 L222.07,76.80 L222.56,76.75 L223.04,76.68 L223.52,76.58 L224.00,76.46 L224.47,76.32 L224.94,76.16 L225.41,75.98 L225.87,75.78 L226.33,75.55 L226.78,75.31 L227.22,75.04 L227.66,74.76 L228.09,74.45 L228.52,74.13 L228.94,73.78 L229.35,73.42 L229.75,73.04 L230.14,72.64 L230.53,72.22 L230.91,71.78 L231.27,71.33 L231.63,70.86 L231.98,70.38 L232.31,69.88 L232.64,69.37 L232.96,68.84 L233.26,68.30 L233.55,67.74 L233.84,67.17 L234.11,66.59 L234.36,66.00 L234.61,65.40 L234.84,64.79 L235.07,64.17 L235.27,63.54 L235.47,62.91 L235.65,62.26 L235.82,61.61 L235.98,60.96 L236.12,60.30 L236.26,59.63 L236.37,58.96 L236.48,58.29 L236.57,57.61 L236.65,56.94 L236.71,56.26 L236.76,55.58 L236.80,54.90 L236.82,54.23 L236.83,53.56 L236.83,52.89 L236.82,52.22 L236.79,51.56 L236.75,50.90 L236.70,50.25 L236.63,49.60 L236.55,48.96 L236.46,48.33 L236.36,47.71 L236.24,47.09 L236.12,46.49 L235.98,45.90 L235.83,45.31 L235.67,44.74 L235.50,44.18 L235.32,43.64 L235.13,43.11 L234.93,42.59 L234.72,42.09 L234.50,41.60 L234.28,41.12 L234.04,40.67 L233.80,40.23 L233.54,39.80 L233.28,39.40 L233.02,39.01 L232.74,38.64 L232.46,38.29 L232.18,37.96 L231.89,37.65 L231.59,37.36 L231.29,37.09 L230.98,36.83 L230.67,36.60 L230.36,36.39 L230.04,36.21 L229.73,36.04 L229.40,35.89 L229.08,35.77 L228.76,35.67 L228.43,35.59 L228.11,35.53 L227.78,35.50 L227.45,35.49 L227.13,35.49 L226.81,35.53 L226.48,35.58 L226.17,35.65 L225.85,35.75 L225.53,35.87 L225.22,36.01 L224.92,36.18 L224.61,36.36 L224.32,36.57 L224.02,36.79 L223.73,37.04 L223.45,37.31 L223.18,37.60 L222.91,37.90 L222.65,38.23 L222.39,38.58 L222.14,38.94 L221.91,39.33 L221.68,39.73 L221.45,40.15 L221.24,40.59 L221.04,41.04 L220.85,41.51 L220.66,42.00 L220.49,42.50 L220.33,43.02 L220.17,43.55 L220.03,44.09 L219.90,44.64 L219.79,45.21 L219.68,45.79 L219.59,46.39 L219.50,46.99 L219.43,47.60 L219.38,48.22 L219.33,48.85 L219.30,49.49 L219.28,50.13 L219.28,50.78 L219.28,51.44 L219.30,52.10 L219.34,52.77 L219.38,53.44 L219.44,54.11 L219.52,54.79 L219.60,55.46 L219.70,56.14 L219.82,56.82 L219.94,57.49 L220.08,58.17 L220.24,58.84 L220.40,59.51 L220.58,60.18 L220.77,60.84 L220.98,61.50 L221.20,62.15 L221.43,62.79 L221.67,63.43 L221.92,64.06 L222.19,64.68 L222.47,65.30 L222.76,65.90 L223.06,66.49 L223.37,67.07 L223.69,67.64 L224.03,68.20 L224.37,68.74 L224.72,69.27 L225.09,69.79 L225.46,70.29 L225.84,70.78 L226.24,71.25 L226.64,71.71 L227.04,72.14 L227.46,72.56 L227.88,72.97 L228.31,73.35 L228.75,73.72 L229.19,74.07 L229.64,74.40 L230.10,74.71 L230.56,75.00 L231.02,75.26 L231.49,75.51 L231.96,75.74 L232.44,75.95 L232.92,76.13 L233.40,76.30 L233.88,76.44 L234.37,76.56 L234.86,76.66 L235.34,76.74 L235.83,76.79 L236.32,76.82 L236.81,76.83 L237.30,76.82 L237.78,76.79 L238.27,76.73 L238.75,76.66 L239.23,76.55 L239.71,76.43 L240.18,76.29 L240.65,76.12 L241.11,75.94 L241.57,75.73 L242.03,75.50 L242.48,75.25 L242.92,74.98 L243.36,74.69 L243.79,74.38 L244.21,74.05 L244.63,73.70 L245.04,73.33 L245.44,72.94 L245.83,72.54 L246.21,72.12 L246.59,71.68 L246.95,71.22 L247.31,70.75 L247.65,70.26 L247.99,69.76 L248.31,69.24 L248.62,68.71 L248.93,68.17 L249.22,67.61 L249.50,67.04 L249.76,66.46 L250.02,65.86 L250.26,65.26 L250.49,64.65 L250.71,64.03 L250.92,63.40 L251.11,62.76 L251.29,62.11 L251.46,61.46 L251.61,60.80 L251.75,60.14 L251.88,59.47 L251.99,58.80 L252.10,58.13 L252.18,57.45 L252.26,56.78 L252.32,56.10 L252.37,55.42 L252.40,54.75 L252.42,54.07 L252.43,53.40 L252.43,52.73 L252.41,52.06 L252.38,51.40 L252.33,50.75 L252.28,50.09 L252.21,49.45 L252.13,48.81 L252.03,48.18 L251.93,47.56 L251.81,46.95 L251.68,46.35 L251.54,45.76 L251.39,45.18 L251.23,44.61 L251.06,44.06 L250.88,43.51 L250.68,42.98 L250.48,42.47 L250.27,41.97 L250.05,41.48 L249.82,41.02 L249.58,40.56 L249.33,40.13 L249.08,39.71 L248.82,39.31 L248.55,38.92 L248.28,38.56 L247.99,38.21 L247.71,37.89 L247.41,37.58 L247.12,37.29 L246.81,37.02 L246.51,36.78 L246.20,36.55 L245.88,36.35 L245.57,36.17 L245.25,36.00 L244.93,35.86 L244.60,35.75 L244.28,35.65 L243.95,35.58 L243.63,35.52 L243.30,35.49 L242.97,35.49 L242.65,35.50 L242.33,35.54 L242.01,35.59 L241.69,35.68 L241.37,35.78 L241.06,35.90 L240.75,36.05 L240.44,36.22 L240.14,36.41 L239.84,36.62 L239.55,36.85 L239.26,37.10 L238.98,37.37 L238.71,37.67 L238.44,37.98 L238.18,38.31 L237.93,38.66 L237.68,39.03 L237.45,39.42 L237.22,39.83 L237.00,40.25 L236.79,40.69 L236.59,41.15 L236.40,41.62 L236.22,42.11 L236.05,42.62 L235.89,43.14 L235.74,43.67 L235.60,44.22 L235.47,44.78 L235.36,45.35 L235.25,45.93 L235.16,46.53 L235.08,47.13 L235.02,47.74 L234.96,48.37 L234.92,49.00 L234.89,49.64 L234.87,50.28 L234.87,50.94 L234.88,51.59 L234.91,52.26 L234.94,52.92 L234.99,53.60 L235.05,54.27 L235.13,54.94 L235.22,55.62 L235.32,56.30 L235.44,56.98 L235.57,57.65 L235.71,58.33 L235.87,59.00 L236.04,59.67 L236.22,60.33 L236.42,60.99 L236.62,61.65 L236.84,62.30 L237.08,62.94 L237.32,63.58 L237.58,64.21 L237.85,64.83 L238.13,65.44 L238.42,66.04 L238.73,66.63 L239.04,67.21 L239.37,67.77 L239.70,68.33 L240.05,68.87 L240.40,69.40 L240.77,69.91 L241.15,70.41 L241.53,70.89 L241.92,71.36 L242.33,71.81 L242.74,72.24 L243.15,72.66 L243.58,73.06 L244.01,73.44 L244.45,73.80 L244.89,74.15 L245.34,74.47 L245.80,74.78 L246.26,75.06 L246.73,75.32 L247.20,75.57 L247.67,75.79 L248.15,75.99 L248.63,76.17 L249.11,76.33 L249.59,76.47 L250.08,76.59 L250.57,76.68 L251.05,76.75 L251.54,76.80 L252.03,76.83 L252.52,76.83 L253.01,76.82 L253.49,76.78 L253.98,76.72 L254.46,76.63 L254.94,76.53 L255.41,76.40 L255.88,76.25 L256.35,76.08 L256.82,75.89 L257.28,75.68 L257.73,75.44 L258.18,75.19 L258.62,74.91 L259.06,74.62 L259.48,74.30 L259.91,73.97 L260.32,73.62 L260.73,73.24 L261.13,72.85 L261.52,72.44 L261.90,72.02 L262.27,71.57 L262.63,71.11 L262.98,70.64 L263.33,70.15 L263.66,69.64 L263.98,69.12 L264.29,68.59 L264.59,68.04 L264.88,67.48 L265.15,66.90 L265.42,66.32 L265.67,65.72 L265.91,65.12 L266.14,64.50 L266.36,63.88 L266.56,63.25 L266.75,62.61 L266.93,61.96 L267.09,61.31 L267.24,60.65 L267.38,59.99 L267.50,59.32 L267.62,58.65 L267.71,57.97 L267.80,57.30 L267.87,56.62 L267.93,55.94 L267.97,55.27 L268.00,54.59 L268.02,53.91 L268.03,53.24 L268.02,52.57 L268.00,51.91 L267.96,51.25 L267.92,50.59 L267.86,49.94 L267.79,49.30 L267.70,48.67 L267.61,48.04 L267.50,47.42 L267.38,46.81 L267.25,46.21 L267.11,45.62 L266.95,45.05 L266.79,44.48 L266.61,43.93 L266.43,43.39 L266.23,42.86 L266.03,42.35 L265.81,41.86 L265.59,41.37 L265.36,40.91 L265.12,40.46 L264.87,40.03 L264.62,39.61 L264.35,39.22 L264.08,38.84 L263.81,38.48 L263.52,38.13 L263.24,37.81 L262.94,37.51 L262.64,37.23 L262.34,36.97 L262.03,36.72 L261.72,36.50 L261.41,36.30 L261.09,36.13 L260.77,35.97 L260.45,35.83 L260.12,35.72 L259.80,35.63 L259.47,35.56 L259.15,35.51 L258.82,35.49 L258.50,35.49 L258.17,35.51 L257.85,35.55 L257.53,35.61 L257.21,35.70 L256.89,35.81 L256.58,35.93 L256.27,36.09 L255.97,36.26 L255.67,36.45 L255.37,36.67 L255.08,36.91 L254.79,37.16 L254.52,37.44 L254.24,37.74 L253.98,38.05 L253.72,38.39 L253.47,38.75 L253.22,39.12 L252.99,39.51 L252.76,39.93 L252.55,40.35 L252.34,40.80 L252.14,41.26 L251.95,41.74 L251.77,42.23 L251.60,42.74 L251.45,43.26 L251.30,43.80 L251.16,44.35 L251.04,44.91 L250.93,45.48 L250.83,46.07 L250.74,46.67 L250.66,47.27 L250.60,47.89 L250.55,48.51 L250.51,49.15 L250.48,49.79 L250.47,50.44 L250.47,51.09 L250.48,51.75 L250.51,52.41 L250.55,53.08 L250.60,53.75 L250.67,54.43 L250.75,55.10 L250.84,55.78 L250.95,56.46 L251.07,57.13 L251.20,57.81 L251.34,58.48 L251.50,59.16 L251.68,59.82 L251.86,60.49 L252.06,61.15 L252.27,61.80 L252.49,62.45 L252.73,63.09 L252.98,63.73 L253.24,64.35 L253.51,64.97 L253.79,65.58 L254.09,66.18 L254.39,66.76 L254.71,67.34 L255.04,67.90 L255.38,68.45 L255.73,68.99 L256.09,69.52 L256.45,70.03 L256.83,70.52 L257.22,71.00 L257.61,71.46 L258.02,71.91 L258.43,72.34 L258.85,72.75 L259.27,73.15 L259.71,73.53 L260.15,73.89 L260.59,74.22 L261.04,74.54 L261.50,74.84 L261.96,75.12 L262.43,75.38 L262.90,75.62 L263.38,75.84 L263.85,76.04 L264.33,76.21 L264.82,76.37 L265.30,76.50 L265.79,76.61 L266.28,76.70 L266.76,76.77 L267.25,76.81 L267.74,76.83 L268.23,76.83 L268.72,76.81 L269.20,76.77 L269.68,76.70 L270.17,76.61 L270.64,76.50 L271.12,76.37 L271.59,76.21 L272.06,76.04 L272.52,75.84 L272.98,75.62 L273.43,75.39 L273.88,75.13 L274.32,74.85 L274.75,74.55 L275.18,74.23 L275.60,73.89 L276.01,73.53 L276.42,73.15 L276.81,72.76 L277.20,72.35 L277.58,71.92 L277.95,71.47 L278.31,71.01 L278.66,70.53 L279.00,70.03 L279.33,69.52 L279.65,69.00 L279.96,68.46 L280.25,67.91 L280.54,67.35 L280.81,66.77 L281.08,66.18 L281.33,65.58 L281.56,64.98 L281.79,64.36 L282.00,63.73 L282.20,63.10 L282.39,62.46 L282.56,61.81 L282.72,61.15 L282.87,60.49 L283.01,59.83 L283.13,59.16 L283.23,58.49 L283.33,57.82 L283.41,57.14 L283.48,56.46 L283.53,55.78 L283.58,55.11 L283.60,54.43 L283.62,53.76 L283.62,53.09 L283.61,52.42 L283.59,51.75 L283.55,51.10 L283.50,50.44 L283.44,49.79 L283.36,49.15 L283.28,48.52 L283.18,47.89 L283.07,47.28 L282.94,46.67 L282.81,46.07 L282.67,45.49 L282.51,44.91 L282.34,44.35 L282.17,43.80 L281.98,43.27 L281.78,42.74 L281.58,42.23 L281.36,41.74 L281.13,41.26 L280.90,40.80 L280.66,40.36 L280.41,39.93 L280.15,39.52 L279.89,39.13 L279.62,38.75 L279.34,38.39 L279.05,38.06 L278.76,37.74 L278.47,37.44 L278.17,37.16 L277.86,36.91 L277.56,36.67 L277.24,36.46 L276.93,36.26 L276.61,36.09 L276.29,35.94 L275.97,35.81 L275.64,35.70 L275.32,35.61 L274.99,35.55 L274.67,35.51 L274.34,35.49 L274.02,35.49 L273.69,35.51 L273.37,35.56 L273.05,35.63 L272.73,35.72 L272.42,35.83 L272.10,35.97 L271.80,36.12 L271.49,36.30 L271.19,36.50 L270.90,36.72 L270.61,36.96 L270.32,37.23 L270.05,37.51 L269.78,37.81 L269.51,38.13 L269.26,38.47 L269.01,38.83 L268.76,39.21 L268.53,39.61 L268.31,40.02 L268.09,40.46 L267.89,40.90 L267.69,41.37 L267.50,41.85 L267.33,42.35 L267.16,42.86 L267.01,43.38 L266.86,43.92 L266.73,44.48 L266.61,45.04 L266.50,45.62 L266.40,46.21 L266.32,46.81 L266.24,47.41 L266.18,48.03 L266.13,48.66 L266.10,49.30 L266.07,49.94 L266.06,50.59 L266.07,51.24 L266.08,51.90 L266.11,52.57 L266.16,53.24 L266.21,53.91 L266.28,54.58 L266.36,55.26 L266.46,55.94 L266.57,56.61 L266.69,57.29 L266.83,57.97 L266.98,58.64 L267.14,59.31 L267.31,59.98 L267.50,60.64 L267.70,61.30 L267.92,61.95 L268.14,62.60 L268.38,63.24 L268.63,63.87 L268.89,64.50 L269.17,65.11 L269.46,65.72 L269.75,66.32 L270.06,66.90 L270.38,67.47 L270.71,68.03 L271.05,68.58 L271.40,69.12 L271.77,69.64 L272.14,70.14 L272.52,70.63 L272.90,71.11 L273.30,71.57 L273.71,72.01 L274.12,72.44 L274.54,72.85 L274.97,73.24 L275.41,73.61 L275.85,73.97 L276.29,74.30 L276.75,74.62 L277.21,74.91 L277.67,75.19 L278.14,75.44 L278.61,75.68 L279.08,75.89 L279.56,76.08 L280.04,76.25 L280.53,76.40 L281.01,76.53 L281.50,76.63 L281.99,76.72 L282.47,76.78 L282.96,76.82 L283.45,76.83 L283.94,76.83 L284.42,76.80 L284.91,76.75 L285.39,76.68 L285.87,76.59 L286.35,76.47 L286.82,76.33 L287.29,76.18 L287.76,76.00 L288.22,75.79 L288.68,75.57 L289.13,75.33 L289.58,75.06 L290.02,74.78 L290.45,74.47 L290.87,74.15 L291.29,73.81 L291.70,73.44 L292.11,73.06 L292.50,72.66 L292.89,72.25 L293.26,71.81 L293.63,71.36 L293.99,70.89 L294.34,70.41 L294.67,69.91 L295.00,69.40 L295.32,68.87 L295.62,68.33 L295.92,67.78 L296.20,67.21 L296.47,66.63 L296.73,66.04 L296.98,65.44 L297.21,64.83 L297.43,64.21 L297.64,63.59 L297.84,62.95 L298.02,62.31 L298.20,61.66 L298.35,61.00 L298.50,60.34 L298.63,59.67 L298.75,59.00 L298.85,58.33 L298.95,57.66 L299.02,56.98 L299.09,56.30 L299.14,55.63 L299.18,54.95 L299.20,54.27 L299.22,53.60 L299.22,52.93 L299.20,52.26 L299.17,51.60 L299.14,50.94 L299.08,50.29 L299.02,49.64 L298.94,49.00 L298.85,48.37 L298.75,47.75 L298.64,47.13 L298.51,46.53 L298.37,45.94 L298.23,45.35 L298.07,44.78 L297.90,44.22 L297.72,43.68 L297.53,43.14 L297.33,42.62 L297.12,42.12 L296.90,41.63 L296.68,41.15 L296.44,40.70 L296.20,40.26 L295.95,39.83 L295.69,39.42 L295.42,39.04 L295.15,38.67 L294.87,38.31 L294.58,37.98 L294.29,37.67 L293.99,37.38 L293.69,37.10 L293.39,36.85 L293.08,36.62 L292.77,36.41 L292.45,36.22 L292.13,36.05 L291.81,35.90 L291.49,35.78 L291.16,35.68 L290.84,35.60 L290.51,35.54 L290.19,35.50 L289.86,35.49 L289.54,35.49 L289.21,35.52 L288.89,35.57 L288.57,35.65 L288.25,35.74 L287.94,35.86 L287.63,36.00 L287.32,36.16 L287.02,36.35 L286.72,36.55 L286.43,36.78 L286.14,37.02 L285.85,37.29 L285.58,37.58 L285.31,37.88 L285.05,38.21 L284.79,38.55 L284.54,38.92 L284.31,39.30 L284.07,39.70 L283.85,40.12 L283.64,40.56 L283.44,41.01 L283.24,41.48 L283.06,41.97 L282.88,42.47 L282.72,42.98 L282.57,43.51 L282.43,44.05 L282.30,44.61 L282.18,45.17 L282.07,45.75 L281.98,46.35 L281.89,46.95 L281.82,47.56 L281.76,48.18 L281.72,48.81 L281.69,49.44 L281.67,50.09 L281.66,50.74 L281.67,51.40 L281.68,52.06 L281.72,52.72 L281.76,53.39 L281.82,54.07 L281.89,54.74 L281.98,55.42 L282.08,56.09 L282.19,56.77 L282.32,57.45 L282.46,58.12 L282.61,58.80 L282.77,59.47 L282.95,60.13 L283.14,60.80 L283.35,61.45 L283.56,62.11 L283.79,62.75 L284.03,63.39 L284.29,64.02 L284.55,64.64 L284.83,65.26 L285.12,65.86 L285.42,66.45 L285.73,67.03 L286.05,67.60 L286.39,68.16 L286.73,68.71 L287.08,69.24 L287.45,69.76 L287.82,70.26 L288.20,70.75 L288.59,71.22 L288.99,71.68 L289.40,72.11 L289.81,72.54 L290.24,72.94 L290.67,73.33 L291.10,73.70 L291.55,74.05 L291.99,74.38 L292.45,74.69 L292.91,74.98 L293.37,75.25 L293.84,75.50 L294.31,75.73 L294.79,75.94 L295.27,76.12 L295.75,76.29 L296.23,76.43 L296.72,76.55 L297.21,76.65 L297.70,76.73 L298.18,76.79 L298.67,76.82 L299.16,76.83 L299.65,76.82 L300.13,76.79 L300.62,76.74 L301.10,76.66 L301.58,76.56 L302.06,76.44 L302.53,76.30 L303.00,76.14 L303.46,75.95 L303.93,75.74 L304.38,75.52 L304.83,75.27 L305.27,75.00 L305.71,74.71 L306.14,74.40 L306.57,74.07 L306.99,73.72 L307.39,73.36 L307.80,72.97 L308.19,72.57 L308.57,72.15 L308.95,71.71 L309.31,71.25 L309.67,70.78 L310.01,70.30 L310.35,69.80 L310.67,69.28 L310.99,68.75 L311.29,68.20 L311.58,67.65 L311.86,67.08 L312.13,66.50 L312.39,65.90 L312.63,65.30 L312.86,64.69 L313.08,64.07 L313.29,63.44 L313.48,62.80 L313.66,62.16 L313.83,61.50 L313.98,60.85 L314.13,60.18 L314.26,59.52 L314.37,58.85 L314.47,58.18 L314.56,57.50 L314.64,56.82 L314.70,56.15 L314.75,55.47 L314.78,54.79 L314.80,54.12 L314.81,53.44 L314.81,52.77 L314.79,52.11 L314.76,51.45 L314.72,50.79 L314.66,50.14 L314.55,49.49 L314.41,48.86 L314.26,48.23 L314.09,47.61 L313.92,46.99 L313.73,46.39 L313.53,45.80 L313.32,45.22 L313.10,44.65 L312.86,44.09 L312.62,43.55 L312.37,43.02 L312.11,42.50 L311.83,42.00 L311.55,41.52 L311.26,41.05 L310.97,40.59 L310.66,40.16 L310.35,39.74 L310.03,39.33 L309.70,38.95 L309.36,38.58 L309.02,38.23 L308.67,37.91 L308.32,37.60 L307.96,37.31 L307.60,37.04 L307.23,36.79 L306.86,36.57 L306.49,36.36 L306.11,36.18 L305.73,36.01 L305.35,35.87 L304.97,35.75 L304.58,35.66 L304.19,35.58 L303.81,35.53 L303.42,35.49 L303.04,35.49 L302.65,35.50 L302.27,35.53 L301.89,35.59 L301.51,35.67 L301.13,35.77 L300.75,35.89 L300.38,36.04 L300.02,36.21 L299.65,36.39 L299.30,36.60 L298.94,36.83 L298.60,37.08 L298.26,37.35 L297.92,37.65 L297.59,37.96 L297.27,38.29 L296.96,38.64 L296.65,39.01 L296.35,39.39 L296.06,39.80 L295.78,40.22 L295.51,40.66 L295.25,41.12 L295.00,41.59 L294.76,42.08 L294.52,42.58 L294.30,43.10 L294.09,43.63 L293.89,44.18 L293.71,44.74 L293.53,45.31 L293.36,45.89 L293.21,46.48 L293.07,47.09 L292.94,47.70 L292.83,48.32 L292.72,48.96 L292.63,49.59 L292.56,50.24 L292.49,50.89 L292.44,51.55 L292.40,52.21 L292.38,52.88 L292.37,53.55 L292.37,54.22 L292.38,54.90 L292.41,55.58 L292.45,56.25 L292.51,56.93 L292.58,57.61 L292.66,58.28 L292.75,58.95 L292.86,59.62 L292.98,60.29 L293.12,60.95 L293.26,61.61 L293.42,62.26 L293.59,62.90 L293.78,63.54 L293.97,64.17 L294.18,64.79 L294.40,65.40 L294.63,66.00 L294.87,66.59 L295.13,67.17 L295.39,67.74 L295.67,68.29 L295.95,68.83 L296.25,69.36 L296.55,69.88 L296.87,70.37 L297.19,70.86 L297.52,71.33 L297.86,71.78 L298.21,72.21 L298.57,72.63 L298.93,73.03 L299.30,73.42 L299.68,73.78 L300.06,74.12 L300.45,74.45 L300.85,74.76 L301.25,75.04 L301.65,75.31 L302.06,75.55 L302.48,75.78 L302.89,75.98 L303.31,76.16 L303.73,76.32 L304.16,76.46 L304.58,76.58 L305.01,76.67 L305.44,76.75 L305.87,76.80 L306.29,76.83 L306.72,76.83 L307.15,76.82 L307.57,76.78 L308.00,76.72 L308.42,76.64 L308.84,76.54 L309.25,76.41 L309.66,76.26 L310.07,76.09 L310.48,75.90 L310.87,75.69 L311.27,75.46 L311.66,75.21 L312.04,74.93 L312.41,74.64 L312.78,74.33 L313.15,73.99 L313.50,73.64 L313.85,73.27 L314.19,72.88 L314.52,72.47 L314.84,72.05 L315.15,71.60 L315.45,71.15 L315.74,70.67 L316.03,70.18 L316.30,69.68 L316.56,69.16 L316.81,68.62 L317.05,68.08 L317.28,67.52 L317.50,66.94 L317.70,66.36 L317.89,65.77 L318.08,65.16 L318.24,64.55 L318.40,63.92 L318.54,63.29 L318.67,62.65 L318.79,62.00 L318.90,61.35 L318.99,60.69 L319.06,60.03 L319.13,59.36 L319.18,58.69 L319.22,58.02 L319.25,57.34 L319.26,56.67 L319.26,55.99 L319.24,55.31 L319.21,54.63 L319.17,53.96 L319.12,53.29 L319.05,52.62 L318.97,51.95 L318.87,51.29 L318.77,50.64 L318.65,49.99" fill="none" stroke="#47447f" stroke-width="2.9" stroke-linecap="round"/></g>

<path d="M368.5,228.5 L392,198.5 L636.8,337.2 L614.8,370" fill="none" stroke="#0a56a0" stroke-width="2.5" stroke-linejoin="miter"/>
<path d="M362.0,238.2 L367.6,220.9 L370,226 L377.6,228.4 Z" fill="#0a56a0"/>
<path d="M608.6,379 L612.8,362.4 L615.5,368 L622.8,369.3 Z" fill="#0a56a0"/>

</svg>
<div class="t" style="left:83.3px;top:191.2px;letter-spacing:-0.1px;">Spring</div>
<div class="t" style="left:509.6px;top:219.5px;">Position Valves</div>
<div class="t" style="left:511.8px;top:239.4px;">Two-Piece Set</div>
<div class="t" style="left:562px;top:485.9px;">O-Ringed</div>
<div class="t" style="left:564.3px;top:504.5px;">End Plug</div>
</div></body></html>
